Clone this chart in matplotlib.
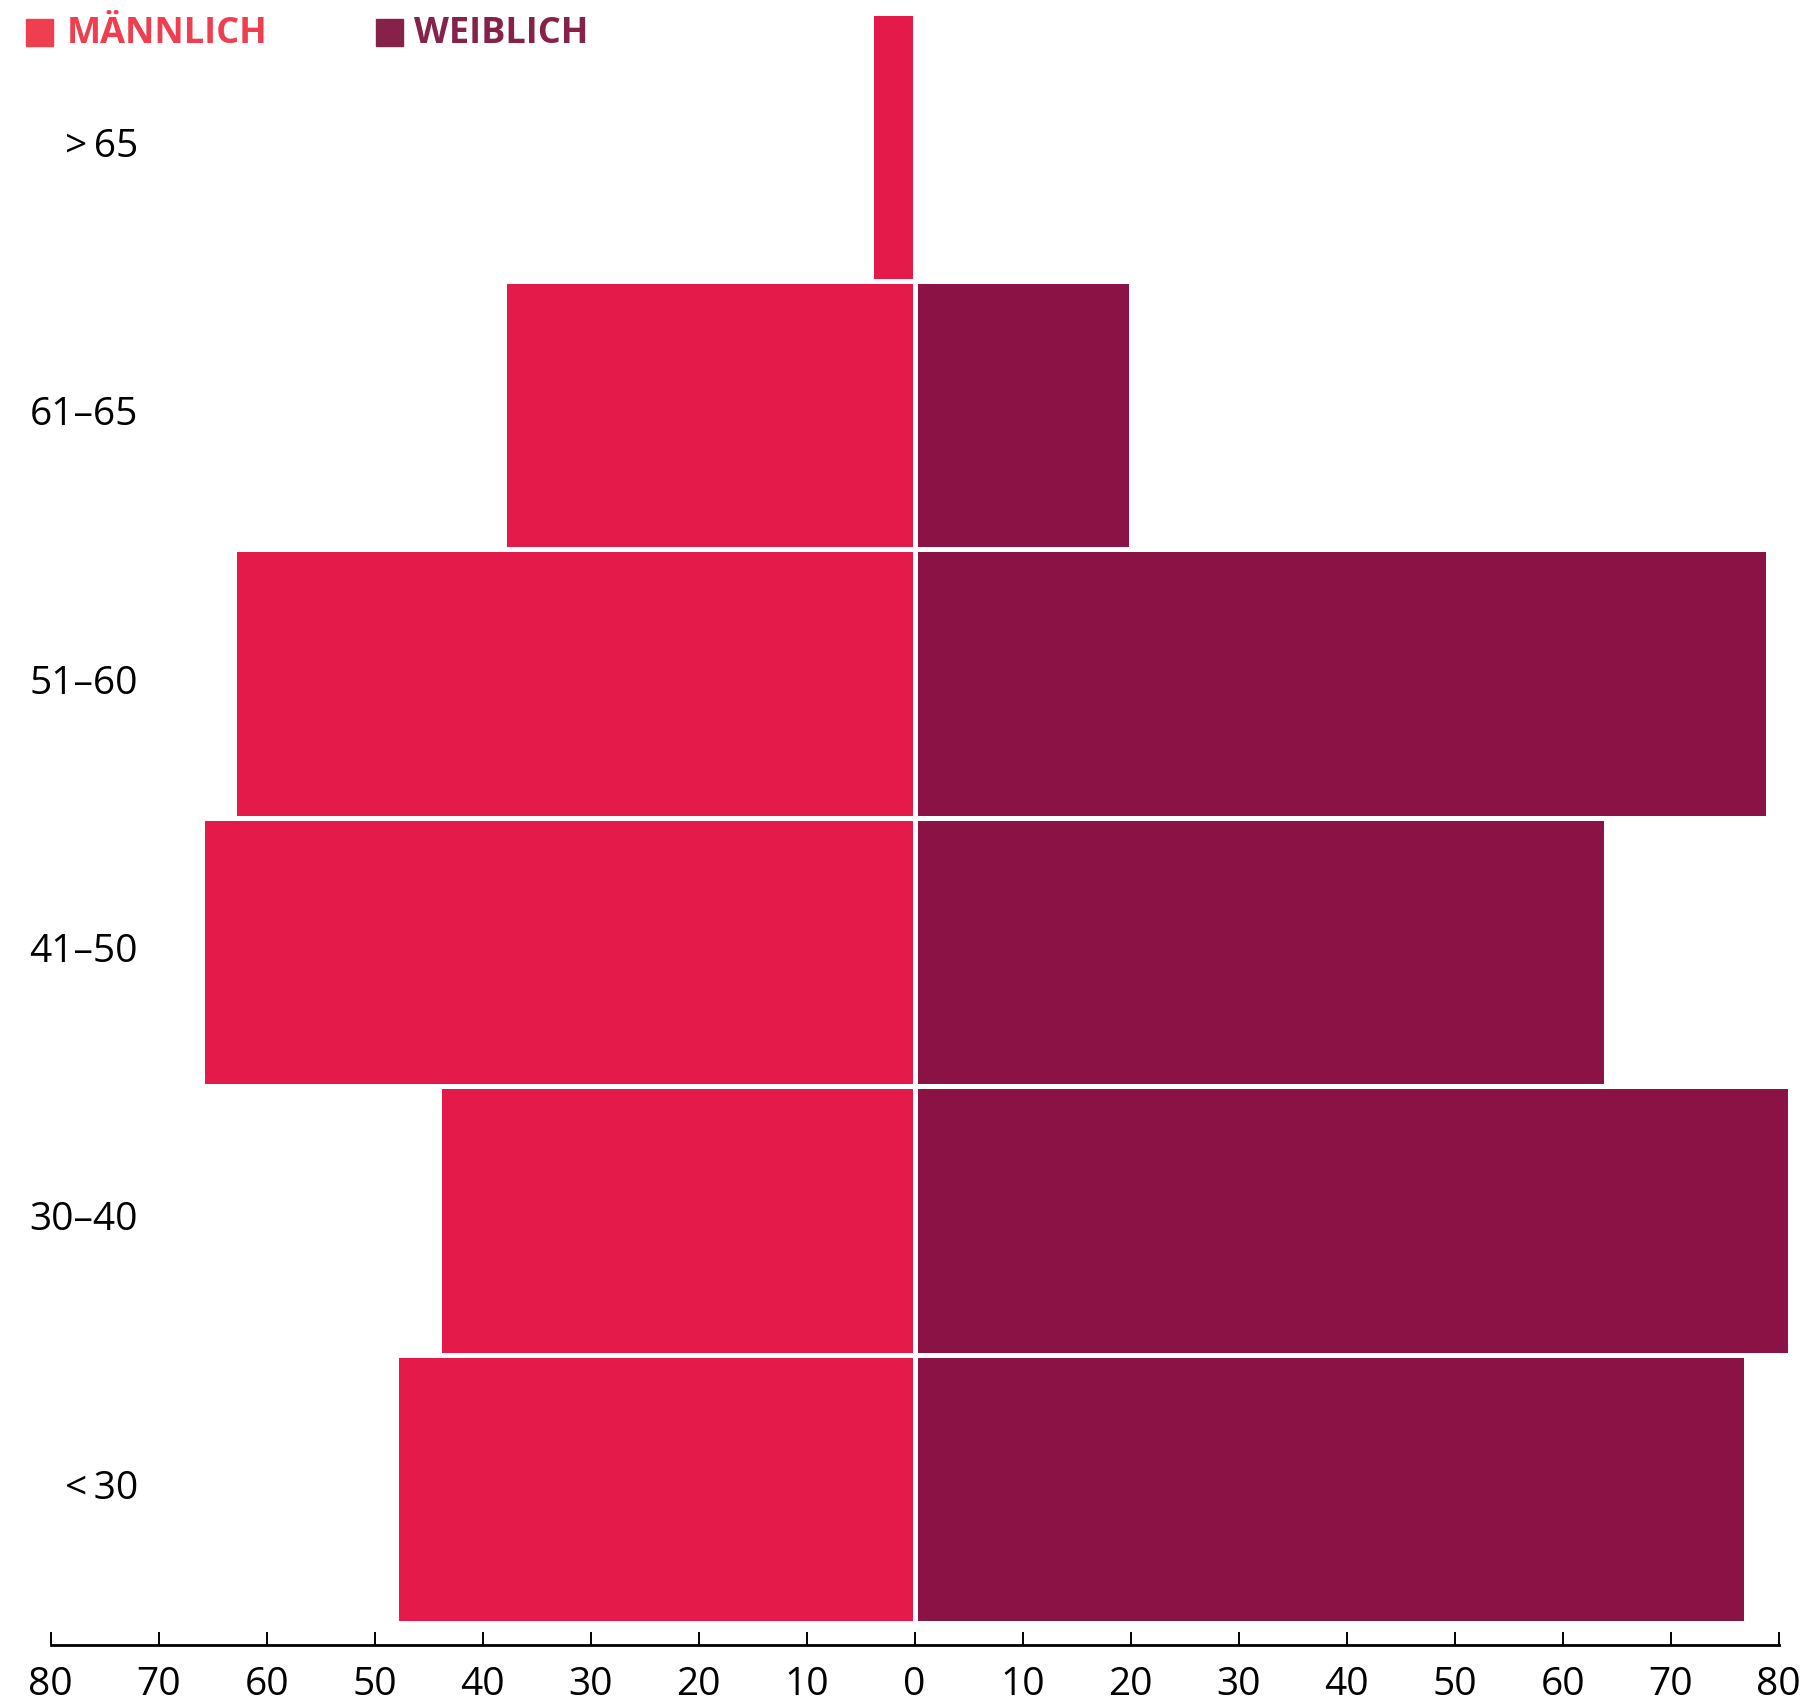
import matplotlib
matplotlib.use("Agg")
import matplotlib.pyplot as plt
from matplotlib.patches import Rectangle
from matplotlib.ticker import FuncFormatter

plt.rcParams['font.family'] = ['Open Sans', 'Noto Sans', 'DejaVu Sans']

# age groups, bottom to top
age_groups = ["<\u200930", "30–40", "41–50", "51–60", "61–65", ">\u200965"]
male = [48, 44, 66, 63, 38, 4]
female = [77, 81, 64, 79, 20, 0]
ticks = [-80, -70, -60, -50, -40, -30, -20, -10, 0, 10, 20, 30, 40, 50, 60, 70, 80]

male_color = "#e31a4a"
female_color = "#8b1244"
male_legend = "#ee3e50"
female_legend = "#86214a"

W, H = 1804, 1703
fig = plt.figure(figsize=(W / 100, H / 100), dpi=100)
ax = fig.add_axes([50.6 / W, 0.03406, (1778.7 - 50.6) / W, 0.95848])

pos = list(range(len(age_groups)))
mbars = ax.barh(pos, [-m for m in male], height=1.0, color=male_color,
                edgecolor="white", linewidth=3.6)
fbars = ax.barh(pos, female, height=1.0, color=female_color,
                edgecolor="white", linewidth=3.6)
for b in list(mbars) + list(fbars):
    b.set_clip_on(False)

ax.set_xlim(-80, 80)
ax.set_ylim(-0.582, 5.5)
ax.set_xticks(ticks)
ax.xaxis.set_major_formatter(FuncFormatter(lambda v, p: f"{abs(int(v))}"))
ax.tick_params(axis="x", direction="in", length=9.4, width=1.4, pad=15,
               labelsize=28, colors="black")
ax.set_yticks([])
for s in ["top", "right", "left"]:
    ax.spines[s].set_visible(False)
ax.spines["bottom"].set_linewidth(2.0)

# category labels to the left of the bars
for p, lab in zip(pos, age_groups):
    y_disp = ax.transData.transform((0, p))[1]
    y_fig = fig.transFigure.inverted().transform((0, y_disp))[1]
    fig.text(138 / W, y_fig, lab, ha="right", va="center", fontsize=28, color="black")

# legend
fig.patches.append(Rectangle((26 / W, 1 - 46 / H), 27 / W, 27 / H,
                             transform=fig.transFigure, color=male_legend))
fig.text(67 / W, 1 - 34 / H, "MÄNNLICH", ha="left", va="center",
         fontsize=26, fontweight="bold", color=male_legend)
fig.patches.append(Rectangle((376 / W, 1 - 46 / H), 27 / W, 27 / H,
                             transform=fig.transFigure, color=female_legend))
fig.text(414 / W, 1 - 34 / H, "WEIBLICH", ha="left", va="center",
         fontsize=26, fontweight="bold", color=female_legend)

fig.savefig("out.png", dpi=100)
